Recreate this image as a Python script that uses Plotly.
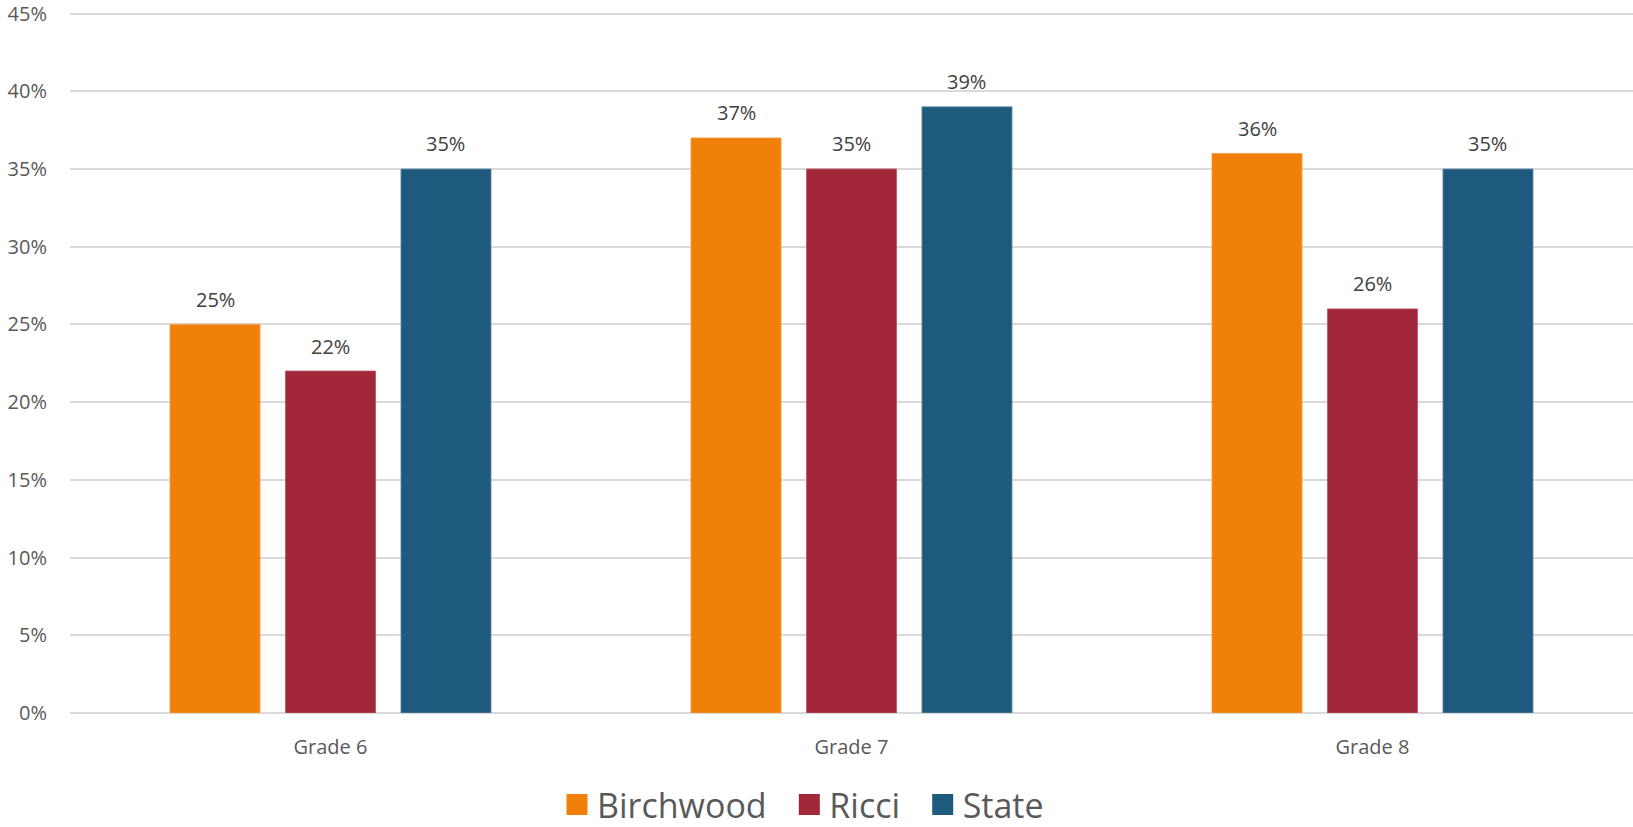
import plotly.graph_objects as go

categories = ["Grade 6", "Grade 7", "Grade 8"]
series_names = ["Birchwood", "Ricci", "State"]
birchwood = [0.25, 0.37, 0.36]
ricci = [0.22, 0.35, 0.26]
state = [0.35, 0.39, 0.35]
y_tick_vals = [0, 0.05, 0.10, 0.15, 0.20, 0.25, 0.30, 0.35, 0.40, 0.45]
y_tick_text = ["0%", "5%", "10%", "15%", "20%", "25%", "30%", "35%", "40%", "45%"]

colors = ["#F0800A", "#A22839", "#1E5A7D"]
edge_colors = ["#F5A04A", "#B85563", "#6A8FA8"]
values = [birchwood, ricci, state]

BARGAP = 0.335
BARGROUPGAP = 0.22
FONT = "Open Sans"
NBSP = "\u00a0"

fig = go.Figure()
for k, (name, vals, col, edge) in enumerate(zip(series_names, values, colors, edge_colors)):
    fig.add_trace(go.Bar(
        x=categories, y=vals, name=name,
        marker=dict(color=col, line=dict(color=edge, width=0.8)),
        showlegend=False,
    ))
    # legend-only entry with a larger square symbol
    pad = NBSP * 2 if k < len(series_names) - 1 else ""
    fig.add_trace(go.Scatter(
        x=[None], y=[None], name=name + pad, mode="markers",
        marker=dict(symbol="square", size=22, color=col,
                    line=dict(color=col, width=6)),
    ))

# data labels above each bar
n = len(series_names)
slot = (1 - BARGAP) / n
for i, vals in enumerate(values):
    for j, v in enumerate(vals):
        fig.add_annotation(
            x=j + (i - (n - 1) / 2) * slot, y=v, xref="x", yref="y",
            text=f"{round(v * 100)}%", showarrow=False,
            yanchor="middle", yshift=25,
            font=dict(family=FONT, size=20, color="#404040"),
        )

fig.update_layout(
    width=1633, height=827,
    margin=dict(l=70, r=0, t=12, b=114, autoexpand=False),
    paper_bgcolor="white", plot_bgcolor="white",
    barmode="group", bargap=BARGAP, bargroupgap=BARGROUPGAP,
    font=dict(family=FONT, color="#595959"),
    legend=dict(
        orientation="h", xanchor="center", yanchor="middle",
        x=(803 - 70) / 1563, y=-(805 - 713) / 701,
        font=dict(family=FONT, size=34, color="#595959"),
        bgcolor="rgba(0,0,0,0)",
    ),
    xaxis=dict(
        type="category", showgrid=False, showline=False, zeroline=False,
        tickfont=dict(family=FONT, size=20, color="#595959"),
        ticks="", ticklabelstandoff=20,
    ),
    yaxis=dict(
        range=[0, 0.451], tickvals=y_tick_vals, ticktext=y_tick_text,
        showgrid=True, gridcolor="#D9D9D9", gridwidth=1.5,
        zeroline=True, zerolinecolor="#D9D9D9", zerolinewidth=1.5,
        showline=False, ticks="", ticklabelstandoff=22,
        ticklabeloverflow="allow",
        tickfont=dict(family=FONT, size=20, color="#595959"),
    ),
)

fig.write_html("out.html")
